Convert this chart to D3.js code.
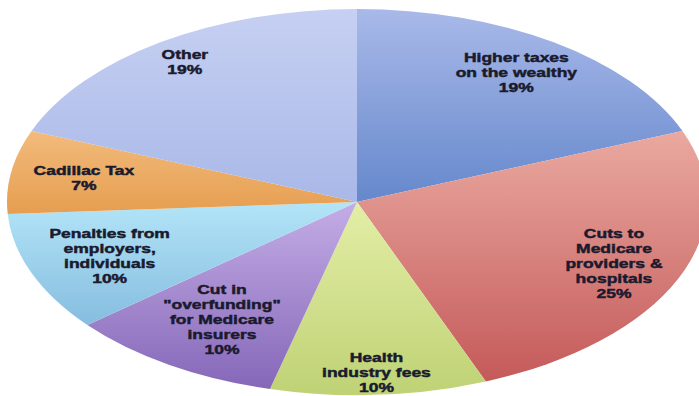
<!DOCTYPE html>
<html>
<head>
<meta charset="utf-8">
<script src="https://cdn.jsdelivr.net/npm/d3@7"></script>
<style>
  html, body { margin: 0; padding: 0; background: #ffffff; }
  svg { display: block; }
  .lbl { font-family: "Liberation Sans", Arial, sans-serif; font-weight: bold; font-size: 12.5px;
         fill: #1a1a2e; stroke: #1a1a2e; stroke-width: 0.45px; }
</style>
</head>
<body>
<svg id="chart" width="699" height="396"></svg>
<script>
// Funding sources, clockwise from 12 o'clock
const categories = [
  "Higher taxes on the wealthy",
  "Cuts to Medicare providers & hospitals",
  "Health industry fees",
  "Cut in \"overfunding\" for Medicare insurers",
  "Penalties from employers, individuals",
  "Cadillac Tax",
  "Other"
];
const shares = [19, 25, 10, 10, 10, 7, 19];
const labelLines = [
  ["Higher taxes", "on the wealthy"],
  ["Cuts to", "Medicare", "providers &", "hospitals"],
  ["Health", "industry fees"],
  ["Cut in", "\"overfunding\"", "for Medicare", "insurers"],
  ["Penalties from", "employers,", "individuals"],
  ["Cadillac Tax"],
  ["Other"]
];

// Slice gradients: lighter at the top, deeper at the bottom
const topColors    = ["#a9b9e9", "#eaa9a0", "#e3eea6", "#c4ade6", "#b3e5f8", "#f2bb7c", "#c6d0f2"];
const bottomColors = ["#6588cc", "#c45a5a", "#bfd275", "#8567b8", "#86bddf", "#e69e50", "#a9b8e8"];
// How far out along each slice the label sits (fraction of radius)
const labelRadius = [0.81, 0.80, 0.885, 0.72, 0.76, 0.79, 0.875];

const svg = d3.select("#chart");
const cx = 357, cy = 202, rx = 350, ry = 193;

const defs = svg.append("defs");
shares.forEach((_, i) => {
  const g = defs.append("linearGradient")
    .attr("id", "grad" + i)
    .attr("x1", 0).attr("y1", 0).attr("x2", 0).attr("y2", 1);
  g.append("stop").attr("offset", "0%").attr("stop-color", topColors[i]);
  g.append("stop").attr("offset", "100%").attr("stop-color", bottomColors[i]);
});

const pie = d3.pie().sort(null).value(d => d);
const arcs = pie(shares);
const arc = d3.arc().innerRadius(0).outerRadius(ry);

// Circle of radius ry stretched horizontally into the ellipse
const pieG = svg.append("g")
  .attr("transform", `translate(${cx},${cy}) scale(${rx / ry},1)`);

pieG.selectAll("path.slice")
  .data(arcs)
  .join("path")
  .attr("class", "slice")
  .attr("d", arc)
  .attr("fill", (d, i) => `url(#grad${i})`);

// Labels
const lineH = 15;
const xStretch = 1.4;
const labelG = svg.append("g");
arcs.forEach((d, i) => {
  const mid = (d.startAngle + d.endAngle) / 2;
  const lx = cx + Math.sin(mid) * rx * labelRadius[i];
  const ly = cy - Math.cos(mid) * ry * labelRadius[i];
  const lines = labelLines[i].concat([d3.format("d")(shares[i]) + "%"]);
  const t = labelG.append("text")
    .attr("class", "lbl")
    .attr("text-anchor", "middle")
    .attr("transform", `translate(${lx},${ly}) scale(${xStretch},1)`);
  const y0 = -((lines.length - 1) * lineH) / 2;
  lines.forEach((s, k) => {
    t.append("tspan")
      .attr("x", 0)
      .attr("y", y0 + k * lineH)
      .attr("dy", "0.35em")
      .text(s);
  });
});
</script>
</body>
</html>
